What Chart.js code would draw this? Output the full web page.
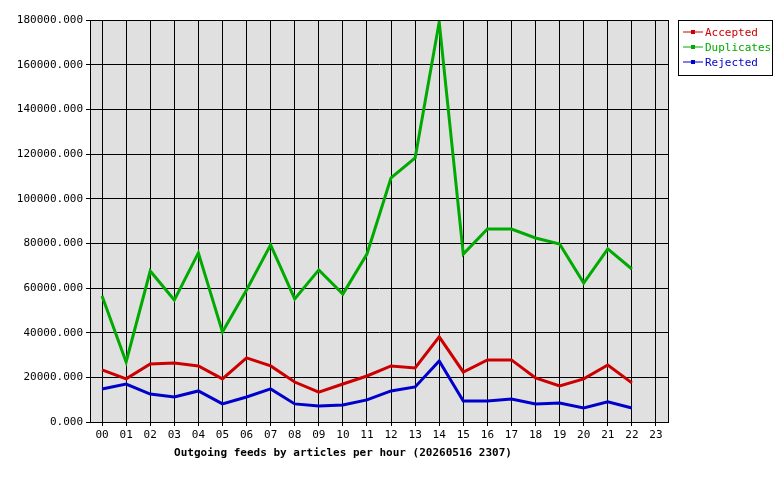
<!DOCTYPE html>
<html><head><meta charset="utf-8">
<script src="https://cdn.jsdelivr.net/npm/chart.js@4"></script>
<style>body{margin:0;background:#fff}</style>
</head><body>
<canvas id="c" width="780" height="480"></canvas>
<script>
const hours=['00','01','02','03','04','05','06','07','08','09','10','11','12','13','14','15','16','17','18','19','20','21','22','23'];
const accepted=[23300,19300,26000,26400,25100,19300,28700,25100,17900,13400,17000,20600,25100,24200,38100,22400,27800,27800,19700,16100,19300,25500,17500,null];
const duplicates=[56400,26900,67600,54600,75700,40300,59100,79300,55100,68100,57300,75200,109300,118200,179100,75200,86400,86400,82400,79700,62200,77500,68500,null];
const rejected=[14800,17000,12500,11200,13900,8100,11200,14800,8100,7200,7600,9900,13900,15700,27300,9400,9400,10300,8100,8500,6300,9000,6300,null];
const series=[['Accepted',accepted,'#cc0000'],['Duplicates',duplicates,'#00aa00'],['Rejected',rejected,'#0000cc']];
const FONT='"DejaVu Sans Mono", monospace';

const deco={id:'deco',
  beforeDraw(ch){const a=ch.chartArea,x=ch.ctx;x.save();x.fillStyle='#e0e0e0';x.fillRect(a.left,a.top,a.right-a.left,a.bottom-a.top);x.restore();},
  afterDraw(ch){const a=ch.chartArea,x=ch.ctx;x.save();
    x.strokeStyle='#000';x.lineWidth=1;x.strokeRect(a.left+.5,a.top+.5,a.right-a.left,a.bottom-a.top);
    x.font='bold 11px '+FONT;x.fillStyle='#000';x.textAlign='center';
    x.fillText('Outgoing feeds by articles per hour (20260516 2307)',343,456);
    x.fillStyle='#fff';x.fillRect(678,20,94,55);x.strokeRect(678.5,20.5,94,55);
    x.font='11px '+FONT;x.textAlign='left';
    series.forEach((s,i)=>{const y=33+i*15;x.strokeStyle=s[2];x.lineWidth=1;
      x.beginPath();x.moveTo(683,y-1);x.lineTo(703,y-1);x.stroke();
      x.fillStyle=s[2];x.fillRect(691,y-3,4,4);x.fillText(s[0],705,y+3);});
    x.restore();}};

new Chart(document.getElementById('c'),{type:'line',
  data:{labels:hours,datasets:series.map(s=>({label:s[0],data:s[1],borderColor:s[2],borderWidth:3,pointRadius:0,tension:0}))},
  options:{responsive:false,animation:false,
    layout:{padding:{top:20,right:112}},
    plugins:{legend:{display:false},tooltip:{enabled:false}},
    scales:{
      x:{offset:true,grid:{color:'#000',offset:false,drawOnChartArea:true,tickLength:4},border:{color:'#000'},
        ticks:{color:'#000',font:{family:FONT,size:11},maxRotation:0,autoSkip:false},
        afterFit(s){s.height=58;}},
      y:{min:0,max:180000,grid:{color:'#000',tickLength:4},border:{color:'#000'},
        ticks:{stepSize:20000,color:'#000',font:{family:FONT,size:11},callback:v=>v.toFixed(3)},
        afterFit(s){s.width=90;}}}},
  plugins:[deco]});
</script>
</body></html>
